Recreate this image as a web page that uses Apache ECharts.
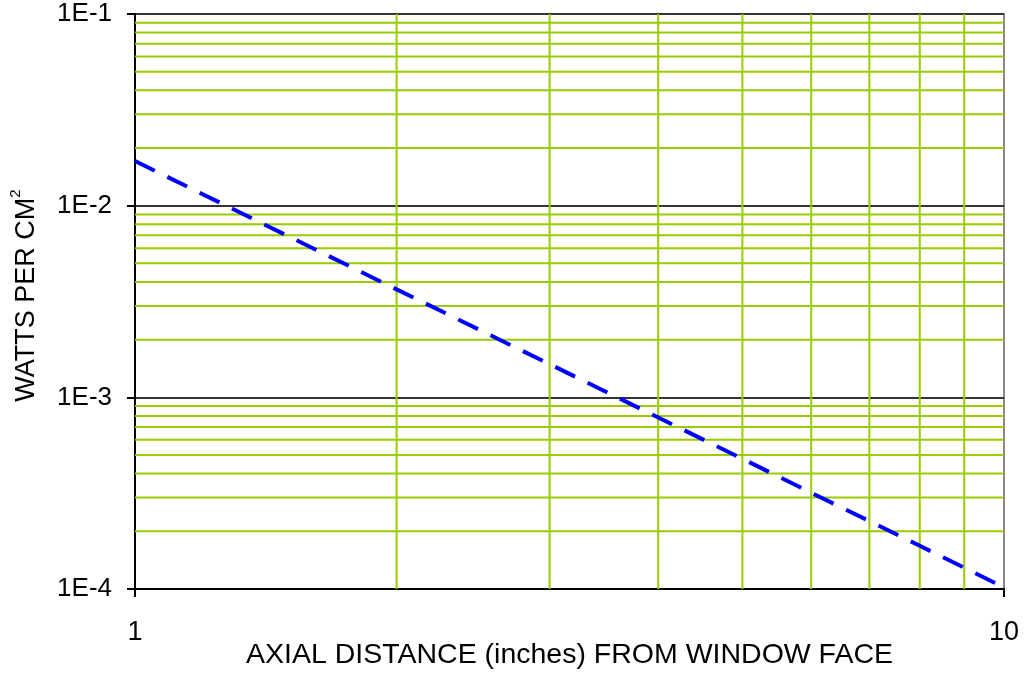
<!DOCTYPE html>
<html>
<head>
<meta charset="utf-8">
<script src="https://cdn.jsdelivr.net/npm/echarts@6/dist/echarts.min.js"></script>
<style>
html,body{margin:0;padding:0;background:#fff;}
#chart{width:1025px;height:673px;}
</style>
</head>
<body>
<div id="chart"></div>
<script>
// Axial distance (inches) and power density (W/cm^2)
var distances = [1, 2, 3, 4, 5, 6, 7, 8, 9, 10];
var wattsPerCm2 = [0.0171, 0.00366, 0.00149, 0.000785, 0.000478, 0.000318, 0.000226, 0.000168, 0.000129, 0.000102];
// minor grid positions
var xMinorGrid = [2, 3, 4, 5, 6, 7, 8, 9];
var yMinorGrid = [0.0002, 0.0003, 0.0004, 0.0005, 0.0006, 0.0007, 0.0008, 0.0009,
                  0.002, 0.003, 0.004, 0.005, 0.006, 0.007, 0.008, 0.009,
                  0.02, 0.03, 0.04, 0.05, 0.06, 0.07, 0.08, 0.09];
var xRange = [1, 10];
var yRange = [0.0001, 0.1];
var xTickLabels = {1: '1', 10: '10'};
var yTickLabels = {'-4': '1E-4', '-3': '1E-3', '-2': '1E-2', '-1': '1E-1'};

var FONT = 'Liberation Sans, Arial, sans-serif';
var GREEN = '#99cc00';

var chart = echarts.init(document.getElementById('chart'), null, {renderer: 'canvas'});

var gridSeries = [];
function gridLine(data) {
  return {
    type: 'line', data: data, z: 1, silent: true, symbol: 'none', showSymbol: false,
    lineStyle: {color: GREEN, width: 2}, emphasis: {disabled: true}, tooltip: {show: false}
  };
}
xMinorGrid.forEach(function (v) { gridSeries.push(gridLine([[v, yRange[0]], [v, yRange[1]]])); });
yMinorGrid.forEach(function (v) { gridSeries.push(gridLine([[xRange[0], v], [xRange[1], v]])); });

var option = {
  animation: false,
  backgroundColor: '#fff',
  grid: {
    left: 135, right: 21, top: 14, bottom: 84,
    outerBoundsMode: 'none', containLabel: false,
    show: true, borderColor: '#888', borderWidth: 2, backgroundColor: 'transparent'
  },
  xAxis: {
    type: 'log', logBase: 10, min: xRange[0], max: xRange[1],
    name: 'AXIAL DISTANCE (inches) FROM WINDOW FACE',
    nameLocation: 'middle', nameGap: 52, nameMoveOverlap: false,
    nameTextStyle: {fontFamily: FONT, fontSize: 28.5, color: '#000'},
    axisLine: {show: true, lineStyle: {color: '#000', width: 2}},
    axisTick: {show: true, length: 8, lineStyle: {color: '#000', width: 2}},
    axisLabel: {
      fontFamily: FONT, fontSize: 27, color: '#000', margin: 30,
      formatter: function (v) { return xTickLabels[Math.round(v)] || ''; }
    },
    splitLine: {show: false}
  },
  yAxis: {
    type: 'log', logBase: 10, min: yRange[0], max: yRange[1],
    name: '{a|WATTS PER CM}{s|2}',
    nameLocation: 'middle', nameGap: 90, nameMoveOverlap: false,
    nameTextStyle: {
      fontFamily: FONT, fontSize: 27, color: '#000', padding: [0, 0, 0, 12],
      rich: {
        a: {fontFamily: FONT, fontSize: 27, lineHeight: 37, color: '#000'},
        s: {fontFamily: FONT, fontSize: 15, lineHeight: 15, verticalAlign: 'top', color: '#000'}
      }
    },
    axisLine: {show: true, lineStyle: {color: '#000', width: 2}},
    axisTick: {show: true, length: 8, lineStyle: {color: '#000', width: 2}},
    axisLabel: {
      fontFamily: FONT, fontSize: 26, color: '#000', margin: 23,
      formatter: function (v) {
        var e = Math.round(Math.log10(v));
        return yTickLabels[String(e)] || '';
      }
    },
    splitLine: {show: true, showMinLine: false, showMaxLine: false, lineStyle: {color: '#333', width: 2}}
  },
  series: gridSeries.concat([
    {
      type: 'line',
      z: 5,
      data: distances.map(function (d, i) { return [d, wattsPerCm2[i]]; }),
      showSymbol: false,
      symbol: 'none',
      smooth: false,
      lineStyle: {color: '#0000ff', width: 4, type: [22, 14], cap: 'butt'}
    }
  ])
};
chart.setOption(option);
</script>
</body>
</html>
